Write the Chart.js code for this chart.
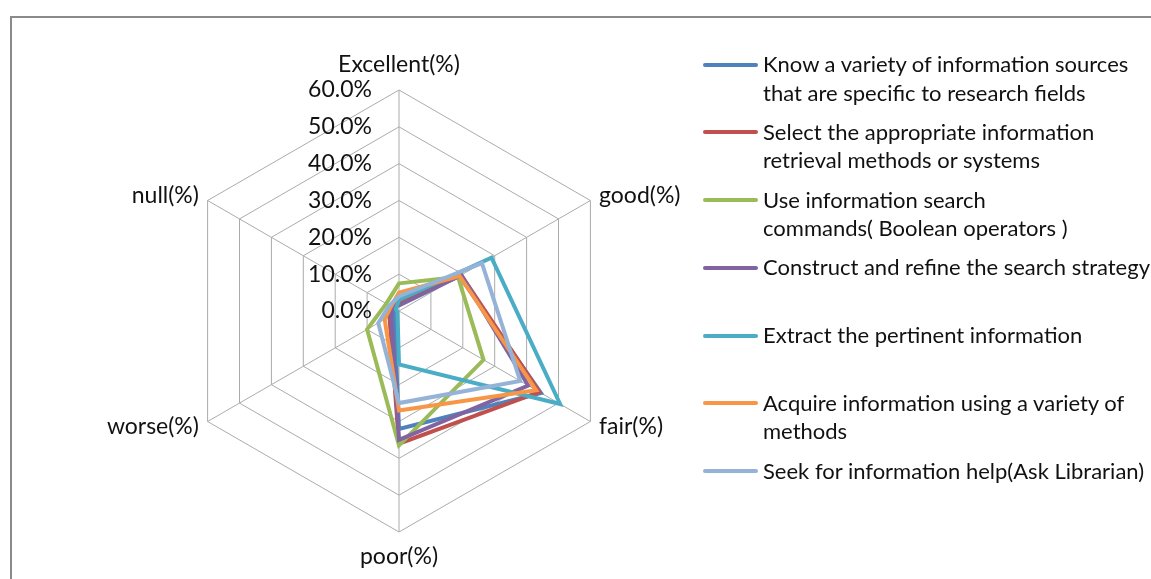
<!DOCTYPE html>
<html>
<head>
<meta charset="utf-8">
<script src="https://cdn.jsdelivr.net/npm/chart.js@4.4.0/dist/chart.umd.min.js"></script>
<style>
    html, body { margin: 0; padding: 0; background: #fff; overflow: hidden; }
    body { width: 1151px; height: 579px; position: relative; font-family: Lato, "Liberation Sans", sans-serif; color: #111; }
    #frame { position: absolute; left: 10px; top: 16px; width: 1300px; height: 700px; border: 2px solid #8a8a8a; }
    #radar { position: absolute; left: 0; top: 0; }
    #legend { position: absolute; left: 703px; top: 50px; }
    .item { position: relative; height: 67.8px; }
    .swatch { position: absolute; left: 0; top: 12.5px; width: 55px; height: 4px; border-radius: 2px; }
    .text { position: absolute; left: 60px; top: 0; font-size: 22px; line-height: 28.5px; white-space: nowrap; }
</style>
</head>
<body>
<div id="frame"></div>
<canvas id="radar" width="1151" height="579"></canvas>
<div id="legend"></div>

<script>
// Data (percent)
const categories = ['Excellent(%)', 'good(%)', 'fair(%)', 'poor(%)', 'worse(%)', 'null(%)'];
const tickValues = [0, 10, 20, 30, 40, 50, 60];

const knowSources       = [2, 19, 44.5, 32, 1.5, 1.5];
const selectMethods     = [2.5, 19.5, 44, 36, 3, 2];
const useCommands       = [7.5, 18.5, 26.5, 36.5, 10, 4];
const constructStrategy = [1.5, 19.5, 40.5, 35, 2.5, 2];
const extractInfo       = [3, 29, 50.5, 14.5, 0.5, 1];
const acquireInfo       = [5, 19, 43, 27, 4.5, 2.5];
const seekHelp          = [4, 26, 38, 25, 6.5, 3];

const seriesNames = [
    ['Know a variety of information sources', 'that are specific to research fields'],
    ['Select the appropriate information', 'retrieval methods or systems'],
    ['Use information search', 'commands( Boolean operators )'],
    ['Construct and refine the search strategy'],
    ['Extract the pertinent information'],
    ['Acquire information using a variety of', 'methods'],
    ['Seek for information help(Ask Librarian)']
];
const seriesValues = [knowSources, selectMethods, useCommands, constructStrategy, extractInfo, acquireInfo, seekHelp];
const seriesColors = ['#4F81BD', '#C0504D', '#9BBB59', '#8064A2', '#4BACC6', '#F79646', '#95B3D7'];

// Axis names and tick labels drawn Excel-style (beside the axis, no backdrop)
const excelLabels = {
    id: 'excelLabels',
    afterDraw(chart) {
        const s = chart.scales.r;
        const ctx = chart.ctx;
        ctx.save();
        ctx.font = '23px Lato';
        ctx.fillStyle = '#111';

        ctx.textAlign = 'right';
        ctx.textBaseline = 'middle';
        tickValues.forEach(v => {
            const d = s.getDistanceFromCenterForValue(v);
            ctx.fillText(v.toFixed(1) + '%', s.xCenter - 27, s.yCenter - d);
        });

        categories.forEach((c, i) => {
            const vertex = s.getPointPosition(i, s.drawingArea);
            const vertical = Math.abs(vertex.x - s.xCenter) < 1;
            const p = s.getPointPosition(i, s.drawingArea + (vertical ? 25 : 10));
            if (vertical) ctx.textAlign = 'center';
            else ctx.textAlign = p.x > s.xCenter ? 'left' : 'right';
            ctx.fillText(c, p.x, p.y);
        });
        ctx.restore();
    }
};

const datasets = seriesValues.map((vals, i) => ({
    label: seriesNames[i].join(' '),
    data: vals,
    borderColor: seriesColors[i],
    backgroundColor: 'transparent',
    borderWidth: 4,
    borderJoinStyle: 'miter',
    fill: false,
    pointRadius: 0,
    order: seriesValues.length - i
}));

new Chart(document.getElementById('radar').getContext('2d'), {
    type: 'radar',
    data: { labels: categories, datasets: datasets },
    options: {
        responsive: false,
        animation: false,
        layout: { padding: { left: 178, top: 90, right: 530, bottom: 46 } },
        plugins: {
            legend: { display: false },
            tooltip: { enabled: false }
        },
        scales: {
            r: {
                min: 0,
                max: 60,
                ticks: { stepSize: 10, display: false },
                pointLabels: { display: false },
                grid: { color: '#ababab', lineWidth: 1 },
                angleLines: { color: '#ababab', lineWidth: 1 }
            }
        }
    },
    plugins: [excelLabels]
});

// Legend (HTML so the two-line entries wrap like the original)
const legend = document.getElementById('legend');
seriesNames.forEach((lines, i) => {
    const item = document.createElement('div');
    item.className = 'item';
    item.innerHTML = `
        <div class="swatch" style="background:${seriesColors[i]}"></div>
        <div class="text">${lines.join('<br>')}</div>
    `;
    legend.appendChild(item);
});
</script>
</body>
</html>
